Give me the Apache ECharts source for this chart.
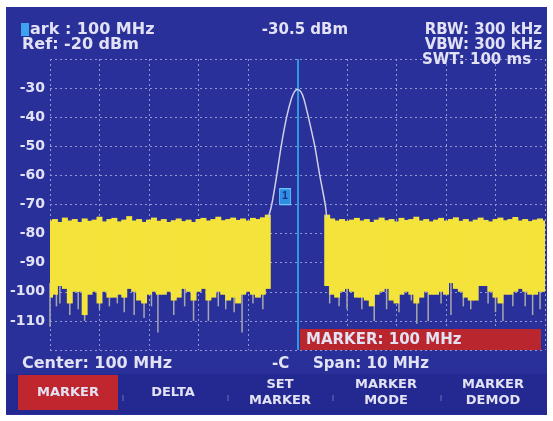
<!DOCTYPE html>
<html>
<head>
<meta charset="utf-8">
<script src="https://cdn.jsdelivr.net/npm/echarts@6/dist/echarts.min.js"></script>
<style>
  html, body { margin: 0; padding: 0; background: #fff; }
  #chart { width: 553px; height: 421px; }
</style>
</head>
<body>
<div id="chart"></div>
<script>
// spectrum trace (MHz / dBm)
var leftFreq = [95.0, 95.1, 95.2, 95.3, 95.4, 95.5, 95.6, 95.7, 95.8, 95.9,
  96.0, 96.1, 96.2, 96.3, 96.4, 96.5, 96.6, 96.7, 96.8, 96.9,
  97.0, 97.1, 97.2, 97.3, 97.4, 97.5, 97.6, 97.7, 97.8, 97.9,
  98.0, 98.1, 98.2, 98.3, 98.4, 98.5, 98.6, 98.7, 98.8, 98.9,
  99.0, 99.1, 99.2, 99.3, 99.4]
var leftTop = [-75.5, -75, -76, -74.5, -75.5, -75, -76, -74.8, -75.6, -75.2,
  -74.2, -75.8, -75, -74.6, -75.8, -75.2, -74, -75.5, -75, -76,
  -75.2, -74.5, -75.6, -75, -76, -75.4, -74.8, -75.7, -75.2, -76,
  -75, -74.6, -75.5, -75, -74.2, -75.4, -75, -74.5, -75.3, -74.8,
  -75.5, -74.6, -75, -74.4, -73.5]
var leftLow = [-102, -101, -98, -99, -104, -100, -100, -108, -101, -100,
  -104, -100, -102, -102, -101, -102, -99, -100, -103, -104,
  -101, -100, -101, -101, -100, -103, -102, -99, -100, -103,
  -100, -99, -103, -102, -100, -101, -103, -102, -104, -101,
  -100, -101, -102, -101, -99]

var rightFreq = [100.6, 100.7, 100.8, 100.9,
  101.0, 101.1, 101.2, 101.3, 101.4, 101.5, 101.6, 101.7, 101.8, 101.9,
  102.0, 102.1, 102.2, 102.3, 102.4, 102.5, 102.6, 102.7, 102.8, 102.9,
  103.0, 103.1, 103.2, 103.3, 103.4, 103.5, 103.6, 103.7, 103.8, 103.9,
  104.0, 104.1, 104.2, 104.3, 104.4, 104.5, 104.6, 104.7, 104.8, 104.9,
  105.0]
var rightTop = [-73.5, -74.8, -75.5, -75,
  -75.6, -75.2, -74.6, -75.5, -75, -76, -75.2, -74.5, -75.4, -75,
  -75.8, -74.6, -75.3, -75, -74.2, -75.5, -75, -75.8, -75.2, -74.6,
  -75.5, -75, -74.4, -75.6, -75, -75.8, -75.2, -74.5, -75.3, -75.8,
  -75, -74.5, -75.4, -75, -74.3, -75.5, -75, -75.7, -75.2, -74.8,
  -75.5]
var rightLow = [-98, -101, -102, -100,
  -99, -100, -102, -102, -103, -105, -101, -100, -99, -103,
  -104, -101, -100, -101, -104, -102, -100, -101, -101, -100,
  -101, -97, -99, -100, -102, -103, -103, -98, -98, -100,
  -102, -104, -101, -101, -100, -99, -100, -101, -101, -100,
  -100]

// the carrier peak
var peakFreq = [99.41, 99.48, 99.58, 99.67, 99.78, 99.88, 99.94, 100.0, 100.07, 100.13, 100.22, 100.35, 100.45, 100.56, 100.59]
var peakLevel = [-74.5, -70, -60, -50, -40, -33.5, -31.2, -30.5, -31.3, -33.8, -40, -50, -60, -70, -74.5]

// deep grey noise spikes under the yellow floor
var spikeFreq = [95.0, 95.13, 95.2, 95.4, 95.57, 95.7, 96.0, 96.2, 96.36, 96.5, 96.7, 96.9, 97.05, 97.18, 97.5, 97.72, 97.9,
  98.2, 98.4, 98.55, 98.72, 98.88, 99.1, 99.3,
  100.65, 100.84, 101.0, 101.3, 101.55, 101.8, 102.05, 102.3, 102.41, 102.64, 102.9, 103.1, 103.35, 103.5, 103.85,
  104.0, 104.15, 104.35, 104.6, 104.75, 104.9]
var spikeDepth = [-112, -105, -104, -108, -106, -110, -106, -105, -104, -107, -108, -109, -105, -114, -108, -105, -110,
  -110, -105, -106, -107, -114, -104, -106,
  -104, -105, -106, -106, -110, -106, -107, -103, -111, -110, -104, -108, -105, -106, -104,
  -107, -110, -105, -105, -108, -106]

var markerFreq = 100
var markerBox = [99.75, -67.3]

var yTicks = ['-30', '-40', '-50', '-60', '-70', '-80', '-90', '-100', '-110']

var txt = '#e2e2f4'
var font = 'bold 15px "DejaVu Sans"'
var bigFont = 'bold 16px "DejaVu Sans"'
var btnFont = 'bold 13px "DejaVu Sans"'
var blue = '#29309a'
var yellow = '#f4e33a'
var halfStep = 0.05 // half the sweep point spacing, MHz

function pairs (xs, ys) {
  return xs.map(function (x, i) { return [x, ys[i]] })
}
function triples (xs, a, b) {
  return xs.map(function (x, i) { return [x, a[i], b[i]] })
}

function label (x, y, text, align, f) {
  return {
    type: 'text', x: x, y: y, z: 20,
    style: { text: text, fill: txt, font: f || font, textAlign: align || 'left', textVerticalAlign: 'middle' }
  }
}

// one yellow column per sweep point, from noise top down to noise bottom
function noiseColumn (params, api) {
  var a = api.coord([api.value(0) - halfStep, api.value(1)])
  var b = api.coord([api.value(0) + halfStep, api.value(2)])
  return {
    type: 'rect',
    shape: { x: a[0] - 0.5, y: a[1], width: b[0] - a[0] + 1, height: b[1] - a[1] },
    style: { fill: yellow, stroke: null }
  }
}

var chart = echarts.init(document.getElementById('chart'))

chart.setOption({
  animation: false,
  backgroundColor: '#ffffff',
  grid: { left: 50, right: 8, top: 59, bottom: 71 },
  xAxis: {
    type: 'value', min: 95, max: 105, interval: 1,
    axisLine: { show: false }, axisTick: { show: false }, axisLabel: { show: false },
    splitLine: { show: true, lineStyle: { color: '#9396d0', width: 1, type: [2, 3] } }
  },
  yAxis: {
    type: 'value', min: -120, max: -20, interval: 10,
    axisLine: { show: false }, axisTick: { show: false },
    axisLabel: {
      color: txt, fontFamily: 'DejaVu Sans', fontWeight: 'bold', fontSize: 14, margin: 5,
      formatter: function (v) { return yTicks.indexOf(String(v)) >= 0 ? String(v) : '' }
    },
    splitLine: { show: true, lineStyle: { color: '#9396d0', width: 1, type: [2, 3] } }
  },
  graphic: [
    { type: 'rect', z: -10, shape: { x: 6, y: 7, width: 541, height: 408 }, style: { fill: blue } },
    { type: 'rect', z: -9, shape: { x: 6, y: 374, width: 541, height: 40 }, style: { fill: '#232990' } },
    // header
    { type: 'rect', z: 19, shape: { x: 21, y: 23, width: 8, height: 13 }, style: { fill: '#3fa2ee' } },
    label(30, 30, 'ark : 100 MHz', 'left', bigFont),
    label(22, 45, 'Ref: -20 dBm', 'left', bigFont),
    label(305, 30, '-30.5 dBm', 'center'),
    label(542, 30, 'RBW: 300 kHz', 'right'),
    label(542, 45, 'VBW: 300 kHz', 'right'),
    label(422, 60, 'SWT: 100 ms'),
    // footer
    label(22, 364, 'Center: 100 MHz', 'left', bigFont),
    label(272, 364, '-C'),
    label(313, 364, 'Span: 10 MHz'),
    { type: 'rect', z: 18, shape: { x: 300, y: 329, width: 241, height: 21 }, style: { fill: '#b9262d' } },
    label(306, 340, 'MARKER: 100 MHz'),
    // softkeys
    { type: 'rect', z: 18, shape: { x: 18, y: 375, width: 100, height: 35 }, style: { fill: '#c0262d' } },
    label(68, 393, 'MARKER', 'center', btnFont),
    label(173, 393, 'DELTA', 'center', btnFont),
    label(280, 385, 'SET', 'center', btnFont),
    label(280, 401, 'MARKER', 'center', btnFont),
    label(386, 385, 'MARKER', 'center', btnFont),
    label(386, 401, 'MODE', 'center', btnFont),
    label(493, 385, 'MARKER', 'center', btnFont),
    label(493, 401, 'DEMOD', 'center', btnFont),
    { type: 'line', z: 18, shape: { x1: 123, y1: 395, x2: 123, y2: 401 }, style: { stroke: '#6a6fb8', lineWidth: 1 } },
    { type: 'line', z: 18, shape: { x1: 228, y1: 395, x2: 228, y2: 401 }, style: { stroke: '#6a6fb8', lineWidth: 1 } },
    { type: 'line', z: 18, shape: { x1: 333, y1: 395, x2: 333, y2: 401 }, style: { stroke: '#6a6fb8', lineWidth: 1 } },
    { type: 'line', z: 18, shape: { x1: 441, y1: 395, x2: 441, y2: 401 }, style: { stroke: '#6a6fb8', lineWidth: 1 } }
  ],
  series: [
    {
      type: 'custom',
      silent: true,
      data: spikeFreq.map(function (f, i) { return [f, -97, spikeDepth[i]] }),
      renderItem: function (params, api) {
        var a = api.coord([api.value(0), api.value(1)])
        var b = api.coord([api.value(0), api.value(2)])
        return {
          type: 'line',
          shape: { x1: a[0], y1: a[1], x2: b[0], y2: b[1] },
          style: { stroke: '#a9a7ad', lineWidth: 1.5 }
        }
      }
    },
    {
      name: 'noise left', type: 'custom', silent: true, clip: true,
      data: triples(leftFreq, leftTop, leftLow),
      renderItem: noiseColumn
    },
    {
      name: 'noise right', type: 'custom', silent: true, clip: true,
      data: triples(rightFreq, rightTop, rightLow),
      renderItem: noiseColumn
    },
    {
      name: 'peak', type: 'line', smooth: 0.3, symbol: 'none', z: 5,
      lineStyle: { color: '#cfd0e6', width: 1.5 },
      data: pairs(peakFreq, peakLevel),
      markLine: {
        silent: true, symbol: 'none', label: { show: false },
        lineStyle: { color: '#2f98e2', width: 2, type: 'solid' },
        data: [{ xAxis: markerFreq }]
      },
      markPoint: {
        silent: true,
        symbol: 'rect', symbolSize: [11, 16],
        itemStyle: { color: '#2c8fe0', borderColor: '#6cc6ff', borderWidth: 1 },
        label: { show: true, formatter: '1', color: '#1b2a8c', fontSize: 10, fontWeight: 'bold' },
        data: [{ coord: markerBox }]
      }
    }
  ]
})
</script>
</body>
</html>
